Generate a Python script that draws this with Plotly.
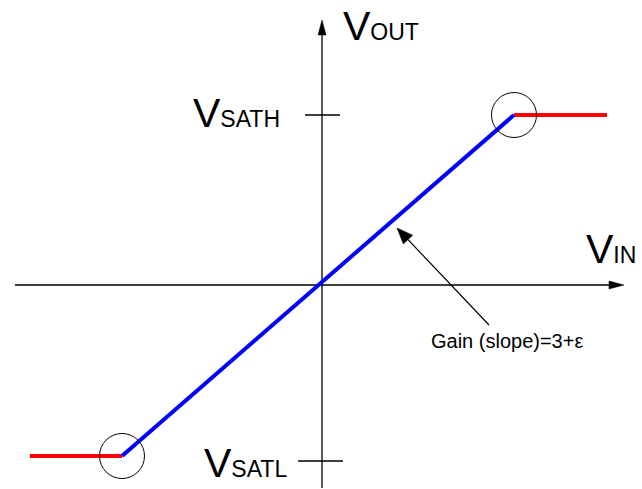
import plotly.graph_objects as go

# ---- data (units: 1 = 100 px, origin at the axes crossing) ----
knee_vin = [-2.00, 1.92]          # input where the output saturates
knee_vout = [-1.71, 1.70]         # saturated output levels (VSATL, VSATH)
sat_low_vin = [-2.92, -2.00]      # low saturation segment
sat_high_vin = [1.92, 2.85]       # high saturation segment
x_axis_span = [-3.07, 3.02]       # horizontal axis extent (tip at right)
y_axis_span = [-2.03, 2.65]       # vertical axis extent (tip at top)
tick_sath_x = [-0.17, 0.18]
tick_sath_y = 1.70
tick_satl_x = [-0.24, 0.21]
tick_satl_y = -1.76
gain_arrow_x = [1.67, 0.75]       # tail -> tip
gain_arrow_y = [-0.40, 0.57]
gain_label = "Gain (slope)=3+ε"
circle_r = 0.225

FONT = "Liberation Sans, Arial, sans-serif"

fig = go.Figure()


def line(xs, ys, color="black", width=1.3):
    fig.add_trace(go.Scatter(x=xs, y=ys, mode="lines",
                             line=dict(color=color, width=width),
                             hoverinfo="skip", showlegend=False))


def head(tx, ty, dx, dy, length, width):
    n = (dx * dx + dy * dy) ** 0.5
    dx, dy = dx / n, dy / n
    bx, by = tx - length * dx, ty - length * dy
    px, py = -dy * width / 2, dx * width / 2
    fig.add_trace(go.Scatter(x=[tx, bx + px, bx - px, tx],
                             y=[ty, by + py, by - py, ty],
                             mode="lines", fill="toself", fillcolor="black",
                             line=dict(color="black", width=0.5),
                             hoverinfo="skip", showlegend=False))
    return bx, by


# axes with arrow heads
bx, _ = head(x_axis_span[1], 0, 1, 0, 0.15, 0.08)
line([x_axis_span[0], bx], [0, 0])
_, by = head(0, y_axis_span[1], 0, 1, 0.15, 0.08)
line([0, 0], [y_axis_span[0], by])

# tick marks for saturation levels
line(tick_sath_x, [tick_sath_y, tick_sath_y])
line(tick_satl_x, [tick_satl_y, tick_satl_y])

# transfer curve
line(sat_low_vin, [knee_vout[0], knee_vout[0]], color="#FF0000", width=4)
line(sat_high_vin, [knee_vout[1], knee_vout[1]], color="#FF0000", width=4)
line(knee_vin, knee_vout, color="#0000FF", width=4)

# gain annotation arrow
hx, hy = head(gain_arrow_x[1], gain_arrow_y[1],
              gain_arrow_x[1] - gain_arrow_x[0],
              gain_arrow_y[1] - gain_arrow_y[0], 0.16, 0.13)
line([gain_arrow_x[0], hx], [gain_arrow_y[0], hy], width=1.2)

# circles around the knees
for cx, cy in zip(knee_vin, knee_vout):
    fig.add_shape(type="circle", xref="x", yref="y",
                  x0=cx - circle_r, x1=cx + circle_r,
                  y0=cy - circle_r, y1=cy + circle_r,
                  line=dict(color="black", width=1))


def vlabel(x, y, sub):
    fig.add_annotation(x=x, y=y, showarrow=False,
                       text="V<span style='font-size:23px'>" + sub + "</span>",
                       xanchor="left", yanchor="middle", borderpad=0,
                       font=dict(family=FONT, size=41, color="black"))


vlabel(0.20, 2.594, "OUT")
vlabel(-1.30, 1.72, "SATH")
vlabel(2.63, 0.364, "IN")
vlabel(-1.19, -1.78, "SATL")

fig.add_annotation(x=1.85, y=-0.56, text=gain_label, showarrow=False,
                   xanchor="center", yanchor="middle",
                   font=dict(family=FONT, size=20, color="black"))

fig.update_layout(
    width=642, height=489, autosize=False,
    margin=dict(l=0, r=0, t=0, b=0),
    paper_bgcolor="white", plot_bgcolor="white",
    xaxis=dict(range=[-3.22, 3.20], visible=False),
    yaxis=dict(range=[-2.04, 2.85], visible=False),
)

fig.write_html("out.html",
               config={"displayModeBar": False},
               post_script="document.body.style.margin='0';")
